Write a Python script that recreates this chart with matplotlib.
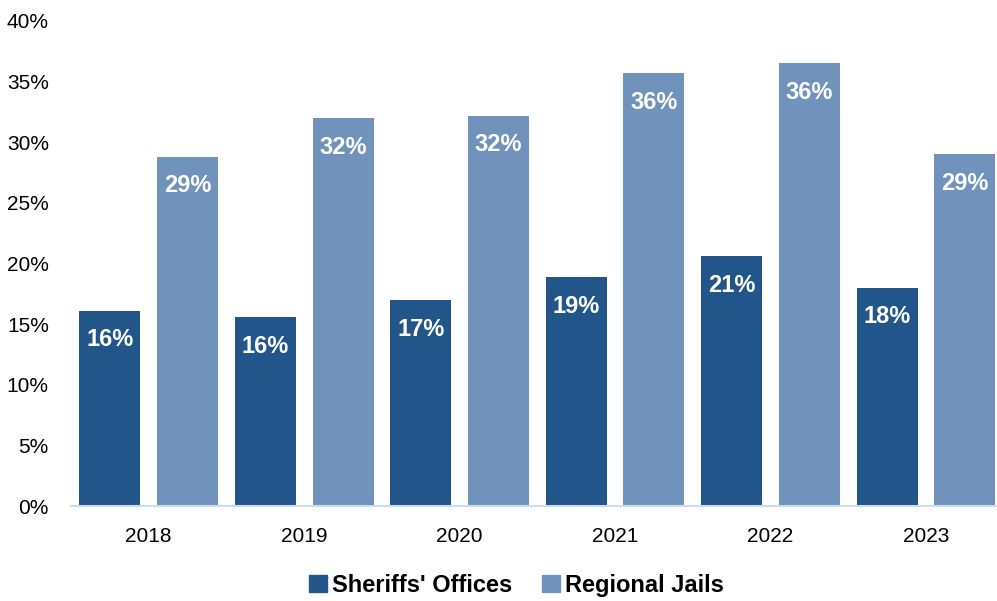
import matplotlib.pyplot as plt
from matplotlib.patches import Patch
import numpy as np

years = ['2018', '2019', '2020', '2021', '2022', '2023']
sheriffs_offices = [16.1, 15.6, 17.0, 18.9, 20.6, 18.0]
regional_jails = [28.8, 32.0, 32.2, 35.7, 36.5, 29.0]

dark_blue = '#22558A'
light_blue = '#7092BB'

plt.rcParams['font.family'] = ['Liberation Sans', 'DejaVu Sans']

fig = plt.figure(figsize=(9.97, 6.01), dpi=100)
ax = fig.add_axes([71 / 997, 95 / 601, 926 / 997, 485 / 601])

x = np.arange(len(years))
width = 0.392
b1 = ax.bar(x - 0.25, sheriffs_offices, width, color=dark_blue)
b2 = ax.bar(x + 0.25, regional_jails, width, color=light_blue)

for bars, vals in ((b1, sheriffs_offices), (b2, regional_jails)):
    for bar, v in zip(bars, vals):
        ax.annotate(f'{v:.0f}%', (bar.get_x() + bar.get_width() / 2, v),
                    xytext=(0, -21), textcoords='offset points',
                    ha='center', va='center', color='white',
                    fontsize=17, fontweight='bold')

ax.set_ylim(0, 40)
ax.set_xlim(-0.5, 5.457)
ax.set_yticks(range(0, 41, 5))
ax.set_yticklabels([f'{t}%' for t in range(0, 41, 5)])
ax.set_xticks(x)
ax.set_xticklabels(years)
ax.tick_params(axis='y', length=0, pad=16, labelsize=15)
ax.tick_params(axis='x', length=0, pad=15, labelsize=15)

for side in ('top', 'right', 'left'):
    ax.spines[side].set_visible(False)
ax.spines['bottom'].set_color('#C9DCF0')
ax.spines['bottom'].set_linewidth(1.5)

handles = [Patch(color=dark_blue, label="Sheriffs' Offices"),
           Patch(color=light_blue, label='Regional Jails')]
fig.legend(handles=handles, loc='lower center', bbox_to_anchor=(0.518, -0.028),
           ncol=2, frameon=False, handlelength=0.75, handleheight=0.75,
           handletextpad=0.2, columnspacing=1.3,
           prop={'size': 17, 'weight': 'bold'})

fig.savefig('out.png', dpi=100)
